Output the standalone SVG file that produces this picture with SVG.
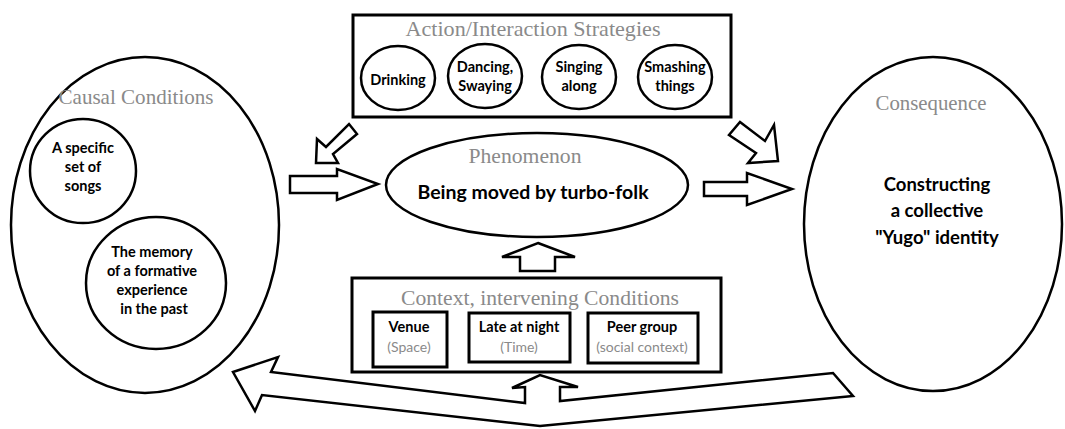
<svg xmlns="http://www.w3.org/2000/svg" width="1065" height="429" viewBox="0 0 1065 429">
<style>
.sh{fill:#fff;stroke:#000;stroke-width:2.5}
.box{fill:#fff;stroke:#000;stroke-width:3}
.ttl{font-family:"Liberation Serif","DejaVu Serif",serif;fill:#8a8a8a;text-anchor:middle}
.b{font-family:Lato,"Open Sans",sans-serif;font-weight:bold;fill:#000;text-anchor:middle}
.g{font-family:Lato,"Open Sans",sans-serif;fill:#8a8a8a;text-anchor:middle}
.ar{fill:#fff;stroke:#000;stroke-width:2.5;stroke-linejoin:miter}
</style>
<rect width="1065" height="429" fill="#fff"/>
<g id="causal">
<ellipse class="sh" cx="145" cy="225" rx="134" ry="168"/>
<text class="ttl" x="136" y="104" font-size="21" textLength="155" lengthAdjust="spacingAndGlyphs">Causal Conditions</text>
<ellipse class="sh" cx="83" cy="171" rx="53" ry="52"/>
<text class="b" font-size="14.5" x="83" y="153">A specific</text>
<text class="b" font-size="14.5" x="83" y="172">set of</text>
<text class="b" font-size="14.5" x="83" y="191">songs</text>
<ellipse class="sh" cx="156" cy="283" rx="70" ry="66"/>
<text class="b" font-size="14.5" x="152" y="257">The memory</text>
<text class="b" font-size="14.5" x="152" y="276">of a formative</text>
<text class="b" font-size="14.5" x="152" y="295">experience</text>
<text class="b" font-size="14.5" x="154" y="314">in the past</text>
</g>
<g id="consequence">
<ellipse class="sh" cx="933" cy="224" rx="129" ry="167"/>
<text class="ttl" x="931" y="110" font-size="21" textLength="111" lengthAdjust="spacingAndGlyphs">Consequence</text>
<text class="b" font-size="18.5" x="937" y="191">Constructing</text>
<text class="b" font-size="18.5" x="937" y="217">a collective</text>
<text class="b" font-size="18.5" x="937" y="244">"Yugo" identity</text>
</g>
<g id="strategies">
<rect class="box" x="353" y="15" width="378" height="102"/>
<text class="ttl" x="533" y="36" font-size="21" textLength="255" lengthAdjust="spacingAndGlyphs">Action/Interaction Strategies</text>
<ellipse class="sh" cx="398" cy="78" rx="37" ry="32"/>
<text class="b" font-size="14.5" x="398" y="85">Drinking</text>
<ellipse class="sh" cx="485" cy="76" rx="37" ry="32"/>
<text class="b" font-size="14.5" x="485" y="72">Dancing,</text>
<text class="b" font-size="14.5" x="485" y="91">Swaying</text>
<ellipse class="sh" cx="579" cy="77" rx="37" ry="32"/>
<text class="b" font-size="14.5" x="579" y="72">Singing</text>
<text class="b" font-size="14.5" x="579" y="91">along</text>
<ellipse class="sh" cx="675" cy="77" rx="37" ry="32"/>
<text class="b" font-size="14.5" x="675" y="72">Smashing</text>
<text class="b" font-size="14.5" x="675" y="91">things</text>
</g>
<g id="phenomenon">
<ellipse class="sh" cx="537" cy="185" rx="151" ry="52"/>
<text class="ttl" x="525" y="163" font-size="21" textLength="113" lengthAdjust="spacingAndGlyphs">Phenomenon</text>
<text class="b" font-size="19.5" x="533" y="199">Being moved by turbo-folk</text>
</g>
<g id="context">
<rect class="box" x="352" y="278" width="369" height="94"/>
<text class="ttl" x="540" y="305" font-size="21" textLength="278" lengthAdjust="spacingAndGlyphs">Context, intervening Conditions</text>
<rect class="box" x="373" y="312" width="74" height="55"/>
<text class="b" font-size="14.5" x="409" y="332">Venue</text>
<text class="g" font-size="14" x="409" y="352">(Space)</text>
<rect class="box" x="469" y="313" width="101" height="49"/>
<text class="b" font-size="14.5" x="519" y="332">Late at night</text>
<text class="g" font-size="14" x="519" y="352">(Time)</text>
<rect class="box" x="588" y="313" width="110" height="50"/>
<text class="b" font-size="14.5" x="642" y="332">Peer group</text>
<text class="g" font-size="14" x="642" y="352">(social context)</text>
</g>
<g id="connectors">
<polygon class="ar" points="290,176 337,176 337,169 378,184 337,200 337,193 290,193"/>
<polygon class="ar" points="704,182 747,182 747,173 792,189 747,205 747,196 704,196"/>
<polygon class="ar" points="349,124 357,134 333,154 338,163 316,163 317,139 326,147"/>
<polygon class="ar" points="740,122 765,141 774,125 778,161 748,163 756,153 729,135"/>
<polygon class="ar" points="538,243 575,257 555,257 555,271 520,271 520,257 502,257"/>
<polygon class="ar" points="233,372 278,357 271,372 525,403 525,387 512,388 540,375 578,387 560,387 560,401 833,373 853,396 540,426 262,395 255,411"/>
</g>
</svg>
